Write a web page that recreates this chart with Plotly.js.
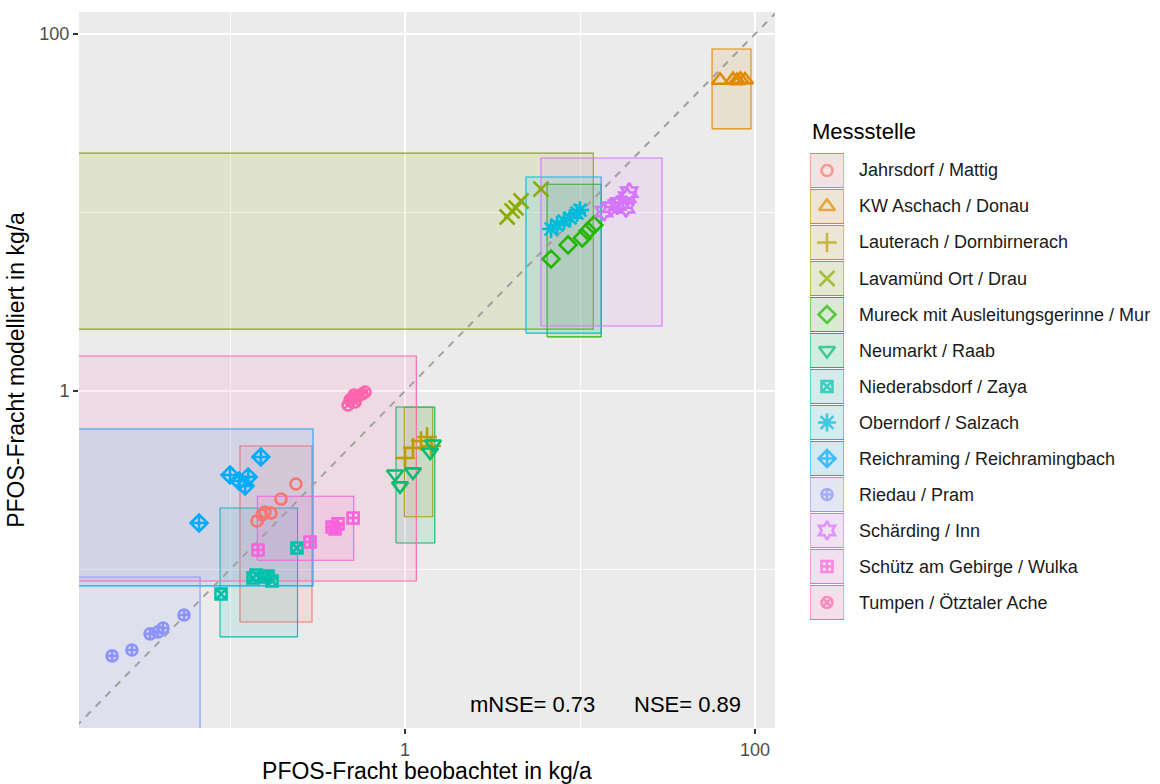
<!DOCTYPE html>
<html>
<head>
<meta charset="utf-8">
<script src="https://cdn.plot.ly/plotly-3.0.1.min.js"></script>
<style>html,body{margin:0;padding:0;background:#ffffff;}</style>
</head>
<body>
<div id="chart" style="width:1160px;height:784px;"></div>
<script>
// ---------- categories & styles ----------
const stations = [
  "Jahrsdorf / Mattig", "KW Aschach / Donau", "Lauterach / Dornbirnerach",
  "Lavamünd Ort / Drau", "Mureck mit Ausleitungsgerinne / Mur", "Neumarkt / Raab",
  "Niederabsdorf / Zaya", "Oberndorf / Salzach", "Reichraming / Reichramingbach",
  "Riedau / Pram", "Schärding / Inn", "Schütz am Gebirge / Wulka", "Tumpen / Ötztaler Ache"
];
const colors = ["#F8766D", "#E18A00", "#BE9C00", "#8CAB00", "#24B700", "#00BE70",
  "#00C1AB", "#00BBDA", "#00ACFC", "#8B93FF", "#D575FE", "#F962DD", "#FF65AC"];
const symbols = ["circle-open", "triangle-up-open", "cross-thin-open", "x-thin-open",
  "diamond-open", "triangle-down-open", "square-x-open", "asterisk-open",
  "diamond-cross-open", "circle-cross-open", "hexagram-open", "square-cross-open", "circle-x-open"];
const markerSizes = [11, 14, 14, 15, 13, 14, 11, 15, 13, 11, 14, 11, 11];

// ---------- uncertainty rectangles (kg/a) ----------
const rectXmin = [0.114, 56.8, 0.991, 0.001, 6.48, 0.888, 0.0877, 4.91, 0.001, 0.001, 5.98, 0.1432, 0.001];
const rectXmax = [0.294, 94.8, 1.44, 11.9, 13.2, 1.48, 0.243, 13.2, 0.298, 0.0674, 29.4, 0.509, 1.16];
const rectYmin = [0.0508, 29.4, 0.1976, 2.22, 2.01, 0.1407, 0.0419, 2.11, 0.0809, 0.001, 2.31, 0.1126, 0.0862];
const rectYmax = [0.492, 82.4, 0.81, 21.5, 14.4, 0.813, 0.221, 15.8, 0.612, 0.0908, 20.2, 0.257, 1.57];

// ---------- observed / modelled loads (kg/a) ----------
const obsJahrsdorf = [0.1426, 0.1524, 0.1585, 0.1715, 0.1956, 0.238];
const modJahrsdorf = [0.187, 0.202, 0.210, 0.207, 0.248, 0.301];
const obsAschach = [63.1, 74.9, 79.0, 82.5, 87.7];
const modAschach = [55.0, 55.4, 54.8, 55.6, 55.2];
const obsLauterach = [1.0, 1.11, 1.234, 1.336, 1.408];
const modLauterach = [0.421, 0.48, 0.525, 0.552, 0.492];
const obsLavamuend = [3.83, 4.09, 4.31, 4.60, 5.98];
const modLavamuend = [9.43, 10.2, 10.6, 11.6, 13.5];
const obsMureck = [6.83, 8.54, 10.3, 11.1, 12.0];
const modMureck = [5.49, 6.58, 7.19, 7.88, 8.51];
const obsNeumarkt = [0.877, 0.936, 1.11, 1.39, 1.445];
const modNeumarkt = [0.343, 0.294, 0.352, 0.455, 0.505];
const obsNiederabsdorf = [0.0888, 0.1353, 0.141, 0.1585, 0.165, 0.1738, 0.2414];
const modNiederabsdorf = [0.0729, 0.0896, 0.0932, 0.0908, 0.092, 0.0862, 0.132];
const obsOberndorf = [6.83, 7.39, 8.1, 8.77, 9.61, 10.0];
const modOberndorf = [8.08, 8.51, 8.96, 9.31, 9.94, 10.3];
const obsReichraming = [0.0665, 0.1, 0.1125, 0.122, 0.127, 0.150];
const modReichraming = [0.182, 0.338, 0.313, 0.294, 0.330, 0.427];
const obsRiedau = [0.0212, 0.0275, 0.0349, 0.0388, 0.0414, 0.0546];
const modRiedau = [0.0328, 0.0354, 0.0436, 0.0447, 0.047, 0.0556];
const obsSchaerding = [13.7, 15.0, 16.3, 17.1, 18.3, 18.6, 19.1];
const modSchaerding = [10.1, 10.7, 11.0, 11.3, 10.6, 12.2, 13.0];
const obsSchuetz = [0.1445, 0.2865, 0.383, 0.398, 0.414, 0.505];
const modSchuetz = [0.1286, 0.1426, 0.173, 0.1686, 0.18, 0.1943];
const obsTumpen = [0.472, 0.498, 0.518, 0.539, 0.485, 0.568, 0.591, 0.511];
const modTumpen = [0.835, 0.913, 0.868, 0.938, 0.890, 0.962, 0.987, 0.950];

const observed = [obsJahrsdorf, obsAschach, obsLauterach, obsLavamuend, obsMureck, obsNeumarkt,
  obsNiederabsdorf, obsOberndorf, obsReichraming, obsRiedau, obsSchaerding, obsSchuetz, obsTumpen];
const modelled = [modJahrsdorf, modAschach, modLauterach, modLavamuend, modMureck, modNeumarkt,
  modNiederabsdorf, modOberndorf, modReichraming, modRiedau, modSchaerding, modSchuetz, modTumpen];

// ---------- axes / labels ----------
const majorTicks = [1, 100];
const majorTickText = ["1", "100"];
const minorTicks = [0.1, 10];
const identityLine = [0.001, 1000];
const metricLabels = ["mNSE= 0.73", "NSE= 0.89"];
const legendTitle = "Messstelle";
const xTitle = "PFOS-Fracht beobachtet in kg/a";
const yTitle = "PFOS-Fracht modelliert in kg/a";

// ---------- build ----------
const FONT = "Liberation Sans, Arial, Helvetica, sans-serif";
function rgba(hex, a) {
  const n = parseInt(hex.slice(1), 16);
  return "rgba(" + ((n >> 16) & 255) + "," + ((n >> 8) & 255) + "," + (n & 255) + "," + a + ")";
}
const MLW = 2.6;

const traces = [];
stations.forEach((s, i) => {
  traces.push({
    type: "scatter", mode: "lines", name: s, showlegend: false, hoverinfo: "skip",
    x: [rectXmin[i], rectXmax[i], rectXmax[i], rectXmin[i], rectXmin[i]],
    y: [rectYmin[i], rectYmin[i], rectYmax[i], rectYmax[i], rectYmin[i]],
    fill: "toself", fillcolor: rgba(colors[i], 0.12),
    line: { color: colors[i], width: 1.1 }
  });
});
traces.push({
  type: "scatter", mode: "lines", showlegend: false, hoverinfo: "skip",
  x: identityLine, y: identityLine,
  line: { color: "#a0a0a0", width: 2, dash: "7px,7px" }
});
stations.forEach((s, i) => {
  traces.push({
    type: "scatter", mode: "markers", name: s, showlegend: false,
    x: observed[i], y: modelled[i],
    marker: { symbol: symbols[i], size: markerSizes[i], color: colors[i],
              line: { color: colors[i], width: MLW } }
  });
});
// legend key symbols (drawn on a hidden helper axis)
traces.push({
  type: "scatter", mode: "markers", showlegend: false, hoverinfo: "skip",
  xaxis: "x2", yaxis: "y2",
  x: stations.map(() => 0.5),
  y: stations.map((s, i) => stations.length - 1 - i),
  marker: { symbol: symbols, size: markerSizes, color: colors,
            line: { color: colors, width: MLW } }
});

const W = 1160, H = 784, L = 79, T = 12, B = 56, R = 0;
const plotW = W - L - R, plotH = H - T - B;
const panelRight = 775;
const px = (p) => (p - L) / plotW;
const py = (p) => (H - B - p) / plotH;

const shapes = [{
  type: "rect", xref: "x domain", yref: "y domain", x0: 0, x1: 1, y0: 0, y1: 1,
  fillcolor: "#EBEBEB", line: { width: 0 }, layer: "below"
}];
const annotations = [];
stations.forEach((s, i) => {
  const yc = stations.length - 1 - i;
  shapes.push({ type: "rect", xref: "x2", yref: "y2", x0: 0, x1: 1, y0: yc - 0.472, y1: yc + 0.472,
    fillcolor: "#F2F2F2", line: { width: 0 }, layer: "below" });
  shapes.push({ type: "rect", xref: "x2", yref: "y2", x0: 0, x1: 1, y0: yc - 0.472, y1: yc + 0.472,
    fillcolor: rgba(colors[i], 0.12), line: { color: colors[i], width: 1.1 }, layer: "below" });
  annotations.push({ xref: "paper", yref: "y2", x: px(857), y: yc, text: s, showarrow: false,
    xanchor: "left", yanchor: "middle", font: { family: FONT, size: 18, color: "#1A1A1A" } });
});
annotations.push({ xref: "paper", yref: "paper", x: px(810), y: py(131), text: legendTitle,
  showarrow: false, xanchor: "left", yanchor: "middle", font: { family: FONT, size: 22, color: "#000000" } });
annotations.push({ xref: "paper", yref: "paper", x: px(468), y: py(704), text: metricLabels[0],
  showarrow: false, xanchor: "left", yanchor: "middle", font: { family: FONT, size: 22, color: "#000000" } });
annotations.push({ xref: "paper", yref: "paper", x: px(743), y: py(704), text: metricLabels[1],
  showarrow: false, xanchor: "right", yanchor: "middle", font: { family: FONT, size: 22, color: "#000000" } });

const axisCommon = {
  type: "log", tickmode: "array", tickvals: majorTicks, ticktext: majorTickText,
  ticks: "outside", ticklen: 5, tickwidth: 1.1, tickcolor: "#333333",
  showgrid: true, gridcolor: "#FFFFFF", gridwidth: 1.7,
  showline: false, zeroline: false, automargin: false, fixedrange: true,
  tickfont: { family: FONT, size: 18, color: "#4D4D4D" },
  minor: { tickmode: "array", tickvals: minorTicks, showgrid: true, gridcolor: "#FFFFFF", gridwidth: 0.85, ticks: "" }
};

const layout = {
  width: W, height: H,
  margin: { l: L, r: R, t: T, b: B, pad: 0 },
  paper_bgcolor: "#FFFFFF", plot_bgcolor: "#FFFFFF",
  font: { family: FONT, color: "#000000" },
  showlegend: false,
  xaxis: Object.assign({}, axisCommon, {
    domain: [0, px(panelRight)], range: [-1.863, 2.114],
    title: { text: xTitle, font: { family: FONT, size: 23, color: "#000000" }, standoff: 4 }
  }),
  yaxis: Object.assign({}, axisCommon, {
    domain: [0, 1], range: [-1.888, 2.123],
    title: { text: yTitle, font: { family: FONT, size: 23, color: "#000000" }, standoff: 8 }
  }),
  xaxis2: { domain: [px(810), px(844)], range: [0, 1], visible: false, fixedrange: true, anchor: "y2" },
  yaxis2: { domain: [py(620.5), py(152.5)], range: [-0.5, 12.5], visible: false, fixedrange: true, anchor: "x2" },
  shapes: shapes,
  annotations: annotations
};

Plotly.newPlot("chart", traces, layout, { displayModeBar: false, staticPlot: true });
</script>
</body>
</html>
